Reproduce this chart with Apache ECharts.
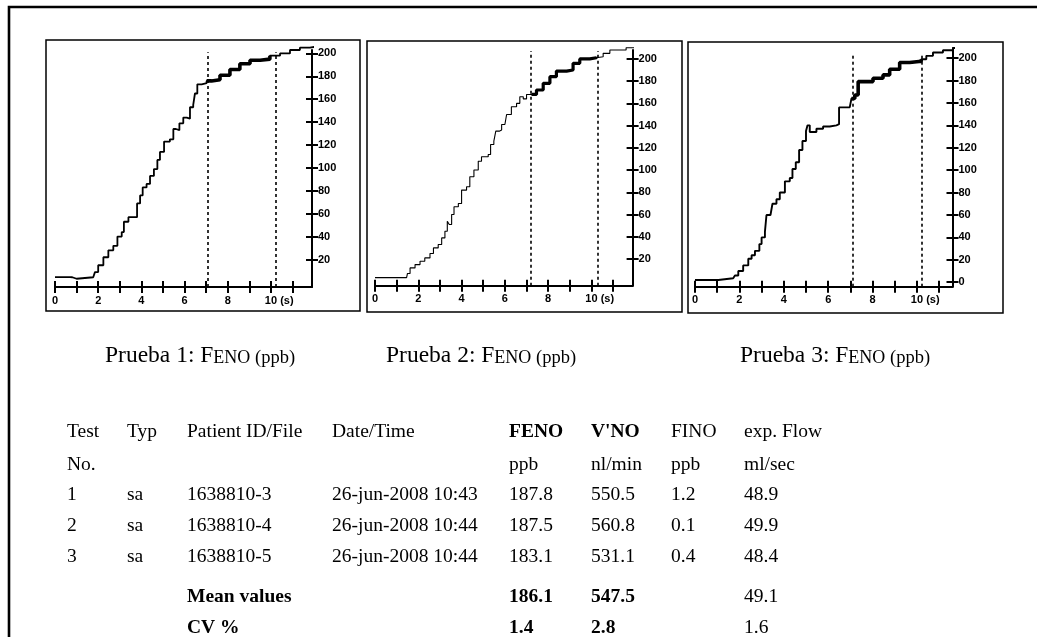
<!DOCTYPE html>
<html><head><meta charset="utf-8">
<script src="https://cdn.jsdelivr.net/npm/echarts@6/dist/echarts.min.js"></script>
<style>html,body{margin:0;padding:0;background:#fff}#c{width:1037px;height:637px}</style>
</head><body><div id="c"></div>
<script>
// ---------- DATA ----------
const prueba1 = [[0,4.7],[0.7,4.5],[0.8,3.2],[1.0,4.5],[1.77,4.8],[1.85,9],[2.0,15],[2.24,22],[2.47,28],[2.7,32],[2.89,40],[3.09,44],[3.19,53],[3.4,57],[3.7,57],[3.8,69],[3.94,76],[4.06,83],[4.24,86],[4.4,93],[4.58,99],[4.74,107],[4.86,114],[5.05,123],[5.32,125],[5.48,134],[5.6,133],[5.76,139],[5.94,144],[6.1,143],[6.25,153],[6.4,155],[6.48,165],[6.59,173],[6.79,174],[7.02,176],[7.25,177],[7.64,181],[8.1,186],[8.56,191],[9.03,194],[9.5,195],[9.95,198],[10.42,200],[10.88,203],[11.34,205],[11.8,206],[12.1,207]];
const prueba2 = [[0,3.3],[1.46,3.3],[1.5,7],[1.62,12],[1.85,15],[2.08,18],[2.3,21],[2.54,25],[2.7,30],[2.92,33],[3.08,39],[3.23,45],[3.34,54],[3.43,51],[3.54,60],[3.65,67],[3.85,70],[4.0,82],[4.23,85],[4.38,94],[4.57,100],[4.77,108],[4.92,112],[5.23,114],[5.34,123],[5.49,126],[5.58,135],[5.74,136],[5.85,141],[6.0,142],[6.08,150],[6.3,157],[6.54,160],[6.69,166],[6.85,164],[7.0,168],[7.23,168],[7.46,172],[7.77,178],[8.08,184],[8.38,189],[8.85,190],[9.15,196],[9.46,200],[9.92,201],[10.23,202],[10.54,205],[10.85,208],[11.6,210],[12.0,211],[12.2,210]];
const prueba3 = [[0,2],[1.05,2],[1.06,3.6],[1.72,3.6],[1.8,6],[1.95,10],[2.17,15],[2.4,21],[2.55,24],[2.7,28],[2.9,34],[3.0,40],[3.15,45],[3.22,60],[3.4,61],[3.49,70],[3.67,74],[3.82,80],[4.05,90],[4.27,93],[4.39,101],[4.54,107],[4.69,118],[4.84,126],[5.0,135],[5.07,140],[5.17,134],[5.47,137],[5.77,139],[6.07,140],[6.37,141],[6.49,156],[6.97,156],[7.05,164],[7.2,167],[7.35,179],[7.57,179],[8.02,182],[8.47,185],[8.77,190],[9.22,196],[9.67,197],[10.09,197],[10.19,199],[10.42,202],[10.72,205],[11.17,207],[11.62,209],[11.92,208]];

const markers1 = [7.05, 10.2];
const markers2 = [7.2, 10.3];
const markers3 = [7.1, 10.2];

const xTickValues = [0,1,2,3,4,5,6,7,8,9,10,11];
const xLabelValues = [0,2,4,6,8,10];
const yTicks1 = [20,40,60,80,100,120,140,160,180,200];
const yTicks2 = [20,40,60,80,100,120,140,160,180,200];
const yTicks3 = [0,20,40,60,80,100,120,140,160,180,200];

const titleNumbers = ['1','2','3'];

const tableHeader1 = ['Test','Typ','Patient ID/File','Date/Time','FENO',"V'NO",'FINO','exp. Flow'];
const tableHeader2 = ['No.','','','','ppb','nl/min','ppb','ml/sec'];
const testNo = ['1','2','3'];
const typ = ['sa','sa','sa'];
const patientId = ['1638810-3','1638810-4','1638810-5'];
const dateTime = ['26-jun-2008 10:43','26-jun-2008 10:44','26-jun-2008 10:44'];
const feno = [187.8, 187.5, 183.1];
const vno = [550.5, 560.8, 531.1];
const fino = [1.2, 0.1, 0.4];
const expFlow = [48.9, 49.9, 48.4];
const meanValues = [186.1, 547.5, null, 49.1];
const cvValues = [1.4, 2.8, null, 1.6];

// ---------- LAYOUT ----------
const panels = [
  {data: prueba1, marks: markers1, yTicks: yTicks1, grid:{left:55, top:50, width:257, height:237}, xMax:11.9, yMin:-4, yMax:203, markTop:201, lw:1.8, lwThick:3.6},
  {data: prueba2, marks: markers2, yTicks: yTicks2, grid:{left:375, top:50, width:257.6, height:235.7}, xMax:11.9, yMin:-4, yMax:208, markTop:207, lw:1.1, lwThick:3.2},
  {data: prueba3, marks: markers3, yTicks: yTicks3, grid:{left:695, top:48, width:257.5, height:238.7}, xMax:11.6, yMin:-4, yMax:209, markTop:204, lw:1.9, lwThick:3.6}
];
const frames = [[46,40,314,271],[367,41,315,271],[688,42,315,271]];
const titleX = [105, 386, 740];
const titleY = 356;

const colX = [67,127,187,332,509,591,671,744];
const rowY = [432,465,495,526,557,597,628];

const SERIF = '"Liberation Serif","Times New Roman",serif';
const SANS = '"Liberation Sans",Arial,sans-serif';

const grids = [], xAxes = [], yAxes = [], series = [];
panels.forEach((p, i) => {
  grids.push(Object.assign({containLabel:false}, p.grid));
  const axisLineStyle = {color:'#000', width:2};
  xAxes.push({
    type:'value', gridIndex:i, min:0, max:p.xMax, position:'bottom',
    axisLine:{show:true, onZero:false, lineStyle:axisLineStyle},
    axisTick:{show:true, customValues:xTickValues, length:6, lineStyle:{color:'#000', width:2}},
    axisLabel:{show:true, customValues:xLabelValues, margin:8, color:'#000',
      fontFamily:SANS, fontWeight:'bold', fontSize:11,
      formatter: v => v === 10 ? '{h| (s)}{n|10}{n| (s)}' : '{n|' + v + '}',
      rich:{n:{fontFamily:SANS, fontWeight:'bold', fontSize:11, color:'#000'},
            h:{fontFamily:SANS, fontWeight:'bold', fontSize:11, color:'rgba(0,0,0,0)'}}},
    splitLine:{show:false}
  });
  xAxes.push({
    type:'value', gridIndex:i, min:0, max:p.xMax, position:'bottom',
    axisLine:{show:false, onZero:false},
    axisTick:{show:true, inside:true, customValues:xTickValues, length:6, lineStyle:{color:'#000', width:2}},
    axisLabel:{show:false}, splitLine:{show:false}
  });
  yAxes.push({
    type:'value', gridIndex:i, min:p.yMin, max:p.yMax, position:'right',
    axisLine:{show:true, onZero:false, lineStyle:axisLineStyle},
    axisTick:{show:true, customValues:p.yTicks, length:6, lineStyle:{color:'#000', width:2}},
    axisLabel:{show:true, customValues:p.yTicks, margin:6, color:'#000',
      fontFamily:SANS, fontWeight:'bold', fontSize:11},
    splitLine:{show:false}
  });
  yAxes.push({
    type:'value', gridIndex:i, min:p.yMin, max:p.yMax, position:'right',
    axisLine:{show:false, onZero:false},
    axisTick:{show:true, inside:true, customValues:p.yTicks, length:6, lineStyle:{color:'#000', width:2}},
    axisLabel:{show:false}, splitLine:{show:false}
  });
  series.push({
    type:'line', xAxisIndex:2*i, yAxisIndex:2*i, data:p.data, step:'end',
    showSymbol:false, symbol:'none', clip:false,
    lineStyle:{color:'#000', width:p.lw}, z:3,
    markLine:{silent:true, symbol:'none', animation:false, label:{show:false},
      lineStyle:{color:'#000', width:1.6, type:[3,3]},
      data: p.marks.map(m => [{coord:[m, p.yMin]}, {coord:[m, p.markTop]}])}
  });
  series.push({
    type:'line', xAxisIndex:2*i, yAxisIndex:2*i,
    data:p.data.filter(d => d[0] >= p.marks[0] - 0.05 && d[0] <= p.marks[1] + 0.05),
    step:'end', showSymbol:false, symbol:'none', clip:false,
    lineStyle:{color:'#000', width:p.lwThick}, z:4
  });
});

// ---------- GRAPHIC (frames, titles, table) ----------
const graphic = [];
graphic.push({type:'rect', shape:{x:9, y:7, width:1060, height:660}, style:{fill:null, stroke:'#000', lineWidth:2.6}, silent:true});
frames.forEach(f => graphic.push({type:'rect', shape:{x:f[0], y:f[1], width:f[2], height:f[3]}, style:{fill:null, stroke:'#000', lineWidth:1.5}, silent:true}));
titleNumbers.forEach((n, i) => {
  graphic.push({type:'text', x:titleX[i], y:titleY, silent:true, style:{
    text:'{a|Prueba ' + n + ': F}{b|ENO}{c| (ppb)}',
    align:'left', verticalAlign:'middle', textAlign:'left', textVerticalAlign:'middle',
    fill:'#000',
    rich:{
      a:{fontFamily:SERIF, fontSize:23.5, lineHeight:23.5, verticalAlign:'bottom', fill:'#000', color:'#000'},
      b:{fontFamily:SERIF, fontSize:18, lineHeight:18, verticalAlign:'bottom', fill:'#000', color:'#000'},
      c:{fontFamily:SERIF, fontSize:18.5, lineHeight:18.5, verticalAlign:'bottom', fill:'#000', color:'#000'}
    }}});
});
function cell(col, row, text, bold) {
  if (text === '' || text === null || text === undefined) return;
  graphic.push({type:'text', x:colX[col], y:rowY[row], silent:true, style:{
    text:String(text), font:(bold ? 'bold ' : '') + '19.5px ' + SERIF, fill:'#000',
    align:'left', verticalAlign:'middle', textAlign:'left', textVerticalAlign:'middle'}});
}
tableHeader1.forEach((t, c) => cell(c, 0, t, c === 4 || c === 5));
tableHeader2.forEach((t, c) => cell(c, 1, t, false));
for (let r = 0; r < testNo.length; r++) {
  cell(0, 2 + r, testNo[r]);
  cell(1, 2 + r, typ[r]);
  cell(2, 2 + r, patientId[r]);
  cell(3, 2 + r, dateTime[r]);
  cell(4, 2 + r, feno[r].toFixed(1));
  cell(5, 2 + r, vno[r].toFixed(1));
  cell(6, 2 + r, fino[r].toFixed(1));
  cell(7, 2 + r, expFlow[r].toFixed(1));
}
cell(2, 5, 'Mean values', true);
cell(2, 6, 'CV %', true);
[meanValues, cvValues].forEach((arr, k) => {
  arr.forEach((v, j) => {
    if (v === null) return;
    cell(4 + j, 5 + k, v.toFixed(1), j < 2);
  });
});

const chart = echarts.init(document.getElementById('c'), null, {renderer:'canvas'});
chart.setOption({
  animation:false,
  backgroundColor:'#fff',
  grid:grids, xAxis:xAxes, yAxis:yAxes, series:series, graphic:graphic
});
</script>
</body></html>
